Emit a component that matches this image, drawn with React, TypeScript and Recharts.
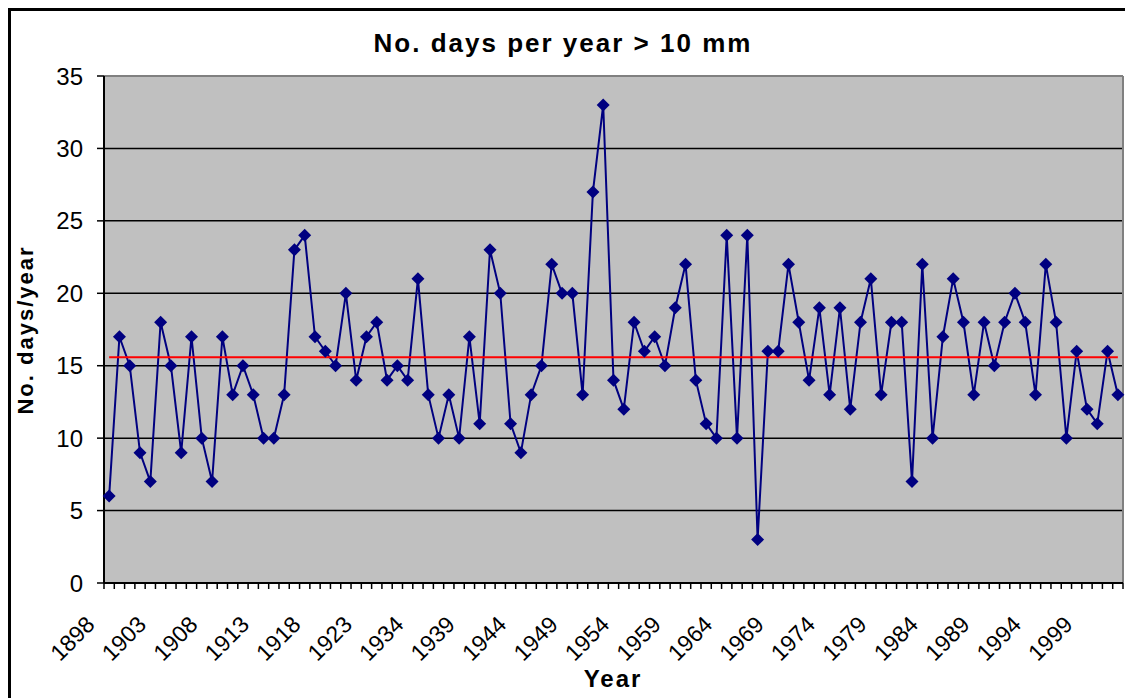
import { LineChart, Line, XAxis, YAxis, CartesianGrid } from 'recharts';

// years with a record (1924-1929 are missing from the series)
const years = [
  1898, 1899, 1900, 1901, 1902, 1903, 1904, 1905, 1906, 1907,
  1908, 1909, 1910, 1911, 1912, 1913, 1914, 1915, 1916, 1917,
  1918, 1919, 1920, 1921, 1922, 1923,
  1930, 1931, 1932, 1933, 1934, 1935, 1936, 1937, 1938, 1939,
  1940, 1941, 1942, 1943, 1944, 1945, 1946, 1947, 1948, 1949,
  1950, 1951, 1952, 1953, 1954, 1955, 1956, 1957, 1958, 1959,
  1960, 1961, 1962, 1963, 1964, 1965, 1966, 1967, 1968, 1969,
  1970, 1971, 1972, 1973, 1974, 1975, 1976, 1977, 1978, 1979,
  1980, 1981, 1982, 1983, 1984, 1985, 1986, 1987, 1988, 1989,
  1990, 1991, 1992, 1993, 1994, 1995, 1996, 1997, 1998, 1999,
  2000, 2001, 2002,
];

// days per year with more than 10 mm of rain
const days = [
  6, 17, 15, 9, 7, 18, 15, 9, 17, 10,
  7, 17, 13, 15, 13, 10, 10, 13, 23, 24,
  17, 16, 15, 20, 14, 17,
  18, 14, 15, 14, 21, 13, 10, 13, 10, 17,
  11, 23, 20, 11, 9, 13, 15, 22, 20, 20,
  13, 27, 33, 14, 12, 18, 16, 17, 15, 19,
  22, 14, 11, 10, 24, 10, 24, 3, 16, 16,
  22, 18, 14, 19, 13, 19, 12, 18, 21, 13,
  18, 18, 7, 22, 10, 17, 21, 18, 13, 18,
  15, 18, 20, 18, 13, 22, 18, 10, 16, 12,
  11, 16, 13,
];

const yTicks = [0, 5, 10, 15, 20, 25, 30, 35];

const mean = days.reduce((s, v) => s + v, 0) / days.length;

const data = years.map((year, i) => ({ year, days: days[i], mean }));

const CHART_W = 1125;
const CHART_H = 690;
const MARGIN = { top: 68, right: 10, left: 36, bottom: 5 };
const Y_AXIS_W = 60;
const PLOT_W = CHART_W - MARGIN.left - MARGIN.right - Y_AXIS_W;
const HALF_STEP = PLOT_W / (2 * years.length);
const FONT = '"Liberation Sans", Arial, sans-serif';

const Diamond = (props: any) => {
  const { cx, cy } = props;
  if (cx == null || cy == null) return null;
  const r = 6.5;
  return (
    <path
      d={`M${cx},${cy - r}L${cx + r},${cy}L${cx},${cy + r}L${cx - r},${cy}Z`}
      fill="#000080"
    />
  );
};

// tick marks sit between categories, labels on every fifth year
const YearTick = (props: any) => {
  const { x, y, index, payload } = props;
  const lx = x - 13;
  const ly = y + 43;
  return (
    <g>
      <line x1={x - HALF_STEP} y1={y} x2={x - HALF_STEP} y2={y + 6} stroke="#000" strokeWidth={1.5} />
      {index === years.length - 1 && (
        <line x1={x + HALF_STEP} y1={y} x2={x + HALF_STEP} y2={y + 6} stroke="#000" strokeWidth={1.5} />
      )}
      {index % 5 === 0 && (
        <text
          x={lx}
          y={ly}
          transform={`rotate(-45, ${lx}, ${ly})`}
          textAnchor="end"
          fontSize={23}
          fontFamily={FONT}
          fill="#000"
        >
          {payload.value}
        </text>
      )}
    </g>
  );
};

export default function App() {
  return (
    <div style={{ position: 'relative', width: CHART_W, height: CHART_H, overflow: 'hidden' }}>
      <div
        style={{
          position: 'absolute',
          left: 0,
          top: 0,
          width: 1300,
          height: 900,
          border: '3px solid #000',
          boxSizing: 'border-box',
        }}
      />
      <div style={{ position: 'absolute', left: 0, top: 0 }}>
        <LineChart width={CHART_W} height={CHART_H} data={data} margin={MARGIN} style={{ fontFamily: FONT }}>
          <CartesianGrid
            vertical={false}
            fill="#C0C0C0"
            fillOpacity={1}
            stroke="#000"
            strokeWidth={1.5}
          />
          <CartesianGrid
            fill="none"
            stroke="#808080"
            strokeWidth={2}
            horizontalCoordinatesGenerator={({ offset }: any) => [offset.top]}
            verticalCoordinatesGenerator={({ offset }: any) => [offset.left + offset.width]}
          />
          <XAxis
            dataKey="year"
            interval={0}
            height={110}
            tickSize={0}
            tickMargin={0}
            tickLine={false}
            tick={<YearTick />}
            padding={{ left: HALF_STEP, right: HALF_STEP }}
            axisLine={{ stroke: '#000', strokeWidth: 2 }}
          />
          <YAxis
            width={Y_AXIS_W}
            domain={[0, 35]}
            ticks={yTicks}
            interval={0}
            tickSize={7}
            tickMargin={14}
            tick={{ fill: '#000', fontSize: 24, fontFamily: FONT }}
            tickLine={{ stroke: '#000', strokeWidth: 1.5 }}
            axisLine={{ stroke: '#000', strokeWidth: 2 }}
          />
          <Line
            type="linear"
            dataKey="days"
            stroke="#000080"
            strokeWidth={2}
            dot={<Diamond />}
            activeDot={false}
            isAnimationActive={false}
          />
          <Line
            type="linear"
            dataKey="mean"
            stroke="#FF0000"
            strokeWidth={2}
            dot={false}
            activeDot={false}
            isAnimationActive={false}
          />
        </LineChart>
      </div>
      <svg
        width={CHART_W}
        height={CHART_H}
        style={{ position: 'absolute', left: 0, top: 0, pointerEvents: 'none' }}
        fontFamily={FONT}
        fontWeight="bold"
        fill="#000"
      >
        <text x={555} y={44} textAnchor="middle" fontSize={26} letterSpacing={2}>
          No. days per year &gt; 10 mm
        </text>
        <text x={25} y={322} textAnchor="middle" fontSize={22} letterSpacing={2} transform="rotate(-90, 25, 322)">
          No. days/year
        </text>
        <text x={605} y={679} textAnchor="middle" fontSize={24} letterSpacing={2}>
          Year
        </text>
      </svg>
    </div>
  );
}
